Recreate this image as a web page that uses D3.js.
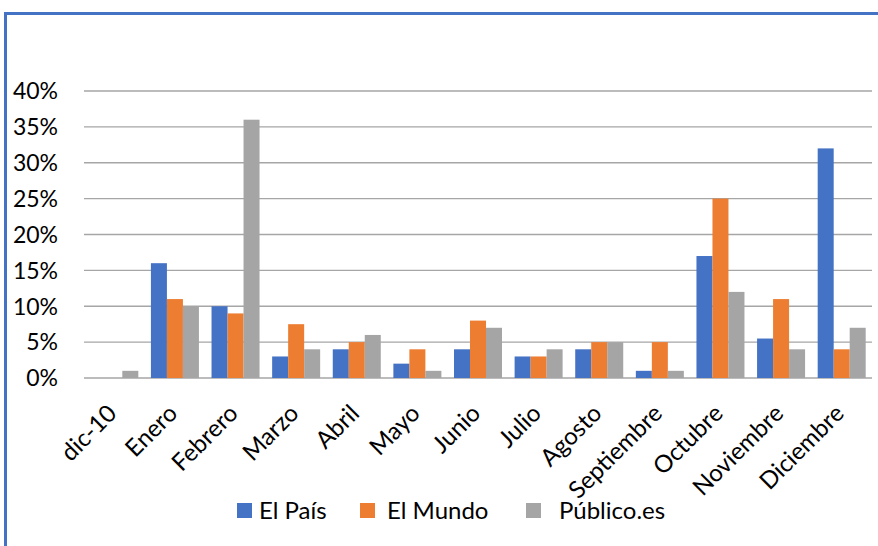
<!DOCTYPE html>
<html>
<head>
<meta charset="utf-8">
<title>Bar chart</title>
<script src="https://d3js.org/d3.v7.min.js"></script>
<style>
    body { margin: 0; background: #fff; }
    svg { display: block; font-family: Lato, "Open Sans", sans-serif; }
</style>
</head>
<body>
<div id="chart"></div>
<script>
    // data (percent)
    var months = ["dic-10", "Enero", "Febrero", "Marzo", "Abril", "Mayo", "Junio", "Julio", "Agosto", "Septiembre", "Octubre", "Noviembre", "Diciembre"]
    var seriesNames = ["El País", "El Mundo", "Público.es"]
    var elPais = [0, 16, 10, 3, 4, 2, 4, 3, 4, 1, 17, 5.5, 32]
    var elMundo = [0, 11, 9, 7.5, 5, 4, 8, 3, 5, 5, 25, 11, 4]
    var publico = [1, 10, 36, 4, 6, 1, 7, 4, 5, 1, 12, 4, 7]
    var yTicks = [0, 5, 10, 15, 20, 25, 30, 35, 40]

    var colors = ["#4472C4", "#ED7D31", "#A5A5A5"]
    var W = 878, H = 546
    var plotLeft = 84, plotRight = 872, plotTop = 91, plotBottom = 378

    var rows = months.map(function (m, i) {
        return { month: m, values: [elPais[i], elMundo[i], publico[i]] }
    })

    var svg = d3.select("#chart").append("svg")
        .attr("width", W)
        .attr("height", H)

    // outer frame (blue, only top and left visible)
    svg.append("path")
        .attr("d", "M5.5," + H + "V13.5H" + W)
        .attr("fill", "none")
        .attr("stroke", "#4472C4")
        .attr("stroke-width", 3)

    var x0 = d3.scaleBand().domain(months).range([plotLeft, plotRight]).padding(0)
    var x1 = d3.scaleBand().domain(seriesNames).range([0, x0.bandwidth()]).paddingOuter(0.394)
    var y = d3.scaleLinear().domain([0, 40]).range([plotBottom, plotTop])

    // gridlines
    svg.append("g")
        .selectAll("line")
        .data(yTicks)
        .enter().append("line")
        .attr("x1", plotLeft)
        .attr("x2", plotRight)
        .attr("y1", function (d) { return y(d) })
        .attr("y2", function (d) { return y(d) })
        .attr("stroke", "#A6A6A6")
        .attr("stroke-width", 1.3)

    // y labels
    svg.append("g")
        .selectAll("text")
        .data(yTicks)
        .enter().append("text")
        .attr("x", 58)
        .attr("y", function (d) { return y(d) })
        .attr("dy", "0.36em")
        .attr("text-anchor", "end")
        .style("font-size", "23px")
        .attr("fill", "#000")
        .text(function (d) { return d + "%" })

    // bars
    var groups = svg.append("g")
        .selectAll("g")
        .data(rows)
        .enter().append("g")
        .attr("transform", function (d) { return "translate(" + x0(d.month) + ",0)" })

    groups.selectAll("rect")
        .data(function (d) { return d.values.map(function (v, k) { return { name: seriesNames[k], value: v, k: k } }) })
        .enter().append("rect")
        .attr("x", function (d) { return x1(d.name) })
        .attr("width", x1.bandwidth())
        .attr("y", function (d) { return y(d.value) })
        .attr("height", function (d) { return y(0) - y(d.value) })
        .attr("fill", function (d) { return colors[d.k] })

    // x labels, rotated
    svg.append("g")
        .selectAll("text")
        .data(months)
        .enter().append("text")
        .attr("transform", function (d) {
            var cx = x0(d) + x0.bandwidth() / 2
            return "translate(" + (cx - 8) + ",403) rotate(-45)"
        })
        .attr("text-anchor", "end")
        .attr("dy", "0.7em")
        .style("font-size", "24px")
        .attr("fill", "#000")
        .text(function (d) { return d })

    // legend
    var legendX = [237, 360, 526]
    var textGap = [22, 27, 33]
    var legend = svg.append("g")
        .selectAll("g")
        .data(seriesNames)
        .enter().append("g")
        .attr("transform", function (d, i) { return "translate(" + legendX[i] + ",503)" })

    legend.append("rect")
        .attr("width", 15)
        .attr("height", 15)
        .attr("fill", function (d, i) { return colors[i] })

    legend.append("text")
        .attr("x", function (d, i) { return textGap[i] })
        .attr("y", 16)
        .style("font-size", "24px")
        .attr("fill", "#000")
        .text(function (d) { return d })
</script>
</body>
</html>
